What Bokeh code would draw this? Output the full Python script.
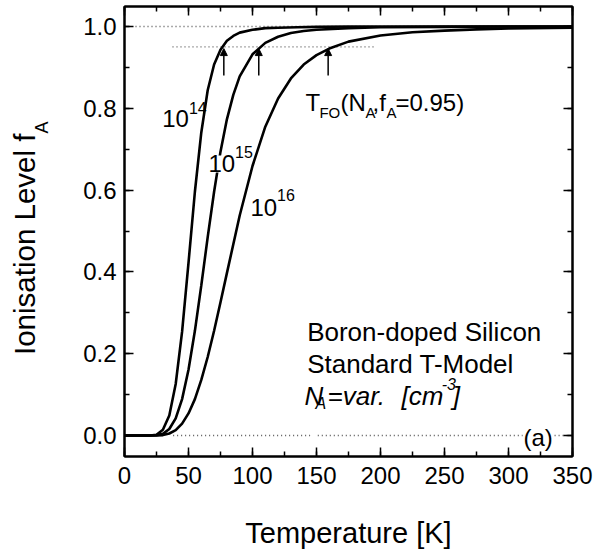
from bokeh.plotting import figure
from bokeh.models import (Range1d, LinearAxis, SingleIntervalTicker, NumeralTickFormatter,
                          CustomJSTickFormatter, Label, Arrow, NormalHead, ColumnDataSource, Div)
from bokeh.layouts import row
from bokeh.embed import file_html
from bokeh.resources import INLINE

# ---- data ----
T14 = [0, 10, 20, 25, 30, 35, 40, 45, 50, 55, 60, 65, 70, 75, 80, 85, 90, 100, 110, 120, 135, 150, 175, 200, 250, 300, 350]
f14 = [0, 0, 0, 0.002, 0.014, 0.049, 0.126, 0.254, 0.422, 0.596, 0.741, 0.844, 0.907, 0.943, 0.965, 0.977, 0.985,
       0.992, 0.996, 0.997, 0.998, 0.999, 1.0, 1.0, 1.0, 1.0, 1.0]

T15 = [0, 10, 20, 25, 30, 35, 40, 45, 50, 55, 60, 65, 70, 75, 80, 85, 90, 100, 110, 120, 130, 140, 150, 175, 200, 250, 300, 350]
f15 = [0, 0, 0, 0.001, 0.004, 0.016, 0.042, 0.089, 0.161, 0.256, 0.367, 0.485, 0.596, 0.694, 0.773, 0.833, 0.878,
       0.932, 0.960, 0.975, 0.984, 0.989, 0.992, 0.996, 0.998, 0.999, 1.0, 1.0]

T16 = [0, 10, 20, 25, 30, 35, 40, 45, 50, 55, 60, 65, 70, 75, 80, 90, 100, 110, 120, 130, 140, 150, 160, 175, 200, 225, 250, 275, 300, 350]
f16 = [0, 0, 0, 0, 0.001, 0.005, 0.013, 0.029, 0.054, 0.089, 0.136, 0.192, 0.256, 0.326, 0.397, 0.538, 0.659, 0.755,
       0.824, 0.873, 0.907, 0.930, 0.946, 0.963, 0.978, 0.986, 0.990, 0.993, 0.995, 0.997]

# reference (dotted) lines: level and x extent
ref_levels = [1.0, 0.95, 0.0, 0.0, 0.0]
ref_x0 = [8.6, 37.5, 38, 151, 336]
ref_x1 = [350, 196, 145, 311, 346]

# arrows marking T_FO(f_A=0.95)
arrow_T = [77.6, 104.9, 159.1]
arrow_from = 0.880
arrow_to = 0.946

FONT = "Liberation Sans"
LABEL_W = 60

p = figure(width=594 - LABEL_W, height=556, x_range=Range1d(0, 350), y_range=Range1d(-0.0513, 1.0489),
           output_backend="svg", toolbar_location=None,
           min_border_left=124 - LABEL_W, min_border_right=22, min_border_top=6, min_border_bottom=100)
p.margin = 0
p.background_fill_color = "white"
p.border_fill_color = "white"
p.outline_line_color = "black"
p.outline_line_width = 2
p.xgrid.visible = False
p.ygrid.visible = False

xt = SingleIntervalTicker(interval=50, num_minor_ticks=2)
yt = SingleIntervalTicker(interval=0.2, num_minor_ticks=2)

def style(ax):
    ax.axis_line_color = "black"
    ax.axis_line_width = 2
    ax.major_tick_in = 9
    ax.major_tick_out = 0
    ax.minor_tick_in = 5
    ax.minor_tick_out = 0
    ax.major_tick_line_width = 1.5
    ax.minor_tick_line_width = 1.5
    ax.major_tick_line_color = "black"
    ax.minor_tick_line_color = "black"
    ax.major_label_text_font = FONT
    ax.major_label_text_font_size = "24px"
    ax.major_label_text_color = "black"

xa = p.xaxis[0]
xa.ticker = xt
style(xa)
xa.major_label_standoff = 10
xa.axis_label = "Temperature [K]"
xa.axis_label_text_font = FONT
xa.axis_label_text_font_size = "29px"
xa.axis_label_text_font_style = "normal"
xa.axis_label_text_color = "black"
xa.axis_label_standoff = 30

ya = p.yaxis[0]
ya.ticker = yt
ya.formatter = NumeralTickFormatter(format="0.0")
style(ya)
ya.major_label_standoff = 8

for loc, tk in (("above", xt), ("right", yt)):
    ax = LinearAxis(ticker=tk, formatter=CustomJSTickFormatter(code="return ''"))
    style(ax)
    ax.major_label_standoff = 0
    p.add_layout(ax, loc)

# dotted reference lines
for lv, a, b in zip(ref_levels, ref_x0, ref_x1):
    p.line([a, b], [lv, lv], line_color="#555555", line_width=1.3, line_dash="1 3")

# curves
for T, f in ((T14, f14), (T15, f15), (T16, f16)):
    p.line(T, f, line_color="black", line_width=2.6)

# arrows
asrc = ColumnDataSource(dict(x=arrow_T, y0=[arrow_from] * 3, y1=[arrow_to] * 3))
p.add_layout(Arrow(end=NormalHead(size=7, fill_color="black", line_color="black", line_width=1),
                   x_start="x", y_start="y0", x_end="x", y_end="y1", source=asrc,
                   line_color="black", line_width=1.5))

def lab(x, y, text, size, style="normal", bg=None):
    p.add_layout(Label(x=x, y=y, text=text, text_font=FONT, text_font_size=f"{size}px",
                       text_font_style=style, text_color="black", text_baseline="alphabetic",
                       text_align="left", background_fill_color=bg))

# curve labels (the 10^15 label masks its curve, as in the reference)
lab(29.5, 0.775, "10", 24); lab(50.3, 0.800, "14", 16)
lab(65.6, 0.664, "10", 24, bg="white"); lab(86.4, 0.692, "15", 16, bg="white")
lab(98.4, 0.558, "10", 24); lab(119.2, 0.587, "16", 16)

# T_FO label
lab(141.4, 0.815, "T", 24)
lab(152.3, 0.790, "FO", 15)
lab(168.7, 0.815, "(N", 24)
lab(188.3, 0.790, "A", 15)
lab(193.8, 0.815, ",f", 24)
lab(204.7, 0.790, "A", 15)
lab(211.7, 0.815, "=0.95)", 24)

# description
lab(142.7, 0.2526, "Boron-doped Silicon", 26)
lab(142.7, 0.1753, "Standard T-Model", 26)
lab(140.6, 0.0978, "N", 26, "italic")
lab(149.2, 0.0782, "A", 16, "italic")
lab(158.6, 0.0978, "=var.", 26, "italic")
lab(216.5, 0.0978, "[cm", 26, "italic")
lab(247.8, 0.127, "-3", 16, "italic")
lab(256.4, 0.0978, "]", 26, "italic")
lab(311.7, -0.006, "(a)", 24)

# rotated y-axis title with subscript
ylabel_html = (
    '<div style="position:absolute;left:10px;top:355px;transform-origin:0 0;'
    'transform:rotate(-90deg);white-space:nowrap;font-family:\'Liberation Sans\';'
    'font-size:29.5px;line-height:1;color:black">'
    'Ionisation Level f<sub style="font-size:18px;vertical-align:-13px">A</sub></div>'
)
ylab = Div(text=ylabel_html, width=LABEL_W, height=556, margin=0,
           styles={"position": "relative", "overflow": "visible"})

layout = row(ylab, p, spacing=0)
layout.margin = 0
open("out.html", "w").write(file_html(layout, INLINE))
